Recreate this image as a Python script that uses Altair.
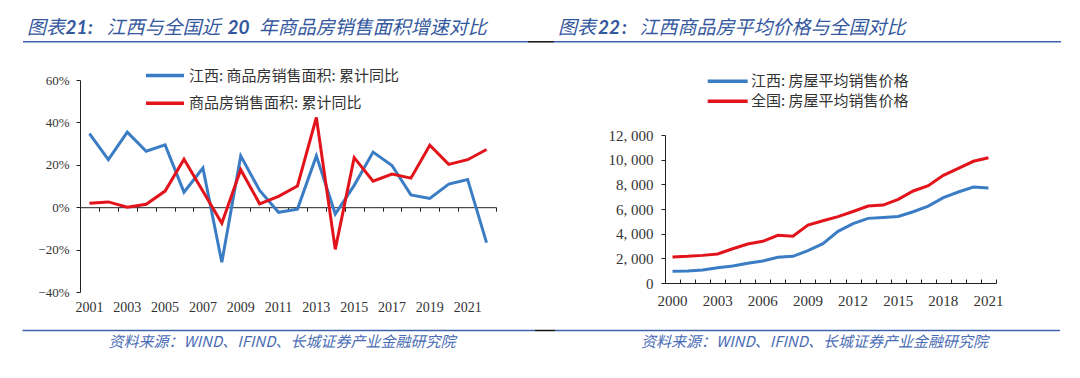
import altair as alt
import pandas as pd

# ---------------- data ----------------
years_l = [str(y) for y in range(2001, 2023)]
jx_area = [34.7, 22.4, 35.4, 26.4, 29.4, 7.1, 18.5, -26.0, 24.2, 7.9, -2.4, -0.9,
           24.2, -3.2, 10.3, 26.0, 19.7, 5.8, 4.1, 10.9, 13.1, -16.7]
cn_area = [1.9, 2.5, 0.0, 1.4, 7.6, 22.6, 7.5, -7.6, 17.7, 1.6, 5.1, 10.0,
           42.3, -19.9, 23.4, 12.3, 15.6, 13.7, 29.2, 20.2, 22.4, 27.2]
labels_l = [str(y) for y in range(2001, 2022, 2)]

years_r = [str(y) for y in range(2000, 2022)]
jx_price = [950, 970, 1050, 1240, 1380, 1600, 1780, 2080, 2160, 2620, 3190, 4190,
            4810, 5240, 5320, 5400, 5780, 6240, 6920, 7380, 7780, 7700]
cn_price = [2110, 2160, 2240, 2350, 2780, 3160, 3380, 3870, 3800, 4700, 5050, 5380,
            5800, 6240, 6320, 6780, 7460, 7890, 8730, 9300, 9870, 10160]
labels_r = [str(y) for y in range(2000, 2022, 3)]

left_names = ["江西: 商品房销售面积: 累计同比", "商品房销售面积: 累计同比"]
right_names = ["江西: 房屋平均销售价格", "全国: 房屋平均销售价格"]
title_l = ["图表", "21", ":", "江西与全国近", "20", "年商品房销售面积增速对比"]
title_r = ["图表", "22", ":", "江西商品房平均价格与全国对比"]
source = "资料来源：WIND、IFIND、长城证券产业金融研究院"

# ---------------- style ----------------
BLUE = "#3B7DC4"
RED = "#E3131B"
AX = "#222222"
LAB = "#333333"
TBLUE = "#34589E"
SBLUE = "#4A6CB5"
LINEBLUE = "#3D64AC"
CJK = "Noto Sans CJK SC"
SERIF = "Liberation Serif"

one = pd.DataFrame({"a": [0]})

dl_jx = pd.DataFrame({"year": years_l, "value": [v / 100 for v in jx_area]})
dl_cn = pd.DataFrame({"year": years_l, "value": [v / 100 for v in cn_area]})
dl_lab = pd.DataFrame({"year": labels_l})
dr_jx = pd.DataFrame({"year": years_r, "value": jx_price})
dr_cn = pd.DataFrame({"year": years_r, "value": cn_price})
dr_lab = pd.DataFrame({"year": labels_r})

WL, HL = 416, 212
WR, HR = 331, 203

# ---------------- left panel ----------------
xl_scale = alt.Scale(type="band", domain=years_l, paddingInner=0, paddingOuter=0)
yl_scale = alt.Scale(domain=[-0.4, 0.6], nice=False, zero=False)

xl_axis = alt.Axis(orient="bottom", offset=-84.8, labels=False, tickBand="extent",
                   tickSize=4, tickColor=AX, domainColor=AX, domainWidth=1,
                   grid=False, title=None)
yl_axis = alt.Axis(values=[-0.4, -0.2, 0, 0.2, 0.4, 0.6], format=".0%", tickSize=4,
                   labelPadding=7, grid=False, domainColor=AX, tickColor=AX,
                   labelFont=SERIF, labelFontSize=13, labelColor=LAB, title=None)

XL = alt.X("year:O", scale=xl_scale, axis=xl_axis, bandPosition=0.5)
YL = alt.Y("value:Q", scale=yl_scale, axis=yl_axis)

l_blue = alt.Chart(dl_jx).mark_line(color=BLUE, strokeWidth=3).encode(x=XL, y=YL)
l_red = alt.Chart(dl_cn).mark_line(color=RED, strokeWidth=3).encode(x=XL, y=YL)
l_xlab = alt.Chart(dl_lab).mark_text(font=SERIF, fontSize=14, color=LAB,
                                     baseline="middle").encode(
    x=XL, y=alt.value(228), text="year:N")


def rule(x1, x2, y, color, width):
    return alt.Chart(one).mark_rule(color=color, strokeWidth=width, strokeCap="butt").encode(
        x=alt.value(x1), x2=alt.value(x2), y=alt.value(y))


def text(s, x, y, size, color, font=CJK, style="normal", weight="normal"):
    return alt.Chart(one).mark_text(text=s, font=font, fontSize=size, color=color,
                                    align="left", baseline="middle",
                                    fontStyle=style, fontWeight=weight).encode(
        x=alt.value(x), y=alt.value(y))


# legend left
leg_l = [
    rule(66, 104, -4.5, BLUE, 3.5),
    text(left_names[0], 109, -4.5, 15, LAB),
    rule(66, 104, 23.2, RED, 3.5),
    text(left_names[1], 109, 23.2, 15, LAB),
]

# titles, underlines, sources (in left panel coordinates)
TY = -52.5
deco = [
    rule(-70.5, -66, -71, "white", 1),  # layout anchor
    text(title_l[0], -53, TY, 19, TBLUE, style="italic"),
    text(title_l[1], -14.5, TY, 19, TBLUE, font="Lato", style="italic", weight="bold"),
    text(title_l[2], 8, TY, 19, TBLUE, font="Lato", style="italic", weight="bold"),
    text(title_l[3], 26.5, TY, 19, TBLUE, style="italic"),
    text(title_l[4], 147.6, TY, 19, TBLUE, font="Lato", style="italic", weight="bold"),
    text(title_l[5], 178.8, TY, 19, TBLUE, style="italic"),
    text(title_r[0], 478, TY, 19, TBLUE, style="italic"),
    text(title_r[1], 518, TY, 19, TBLUE, font="Lato", style="italic", weight="bold"),
    text(title_r[2], 542, TY, 19, TBLUE, font="Lato", style="italic", weight="bold"),
    text(title_r[3], 559.6, TY, 19, TBLUE, style="italic"),
    rule(-57, 448, -38.2, LINEBLUE, 1.5),
    rule(448, 474, -38.2, "#111111", 1.5),
    rule(474, 981, -38.2, LINEBLUE, 1.5),
    rule(-57.5, 455, 250.5, LINEBLUE, 1.5),
    rule(455, 475, 250.5, "#111111", 1.5),
    rule(475, 980, 250.5, LINEBLUE, 1.5),
    text(source, 28.5, 262, 15, SBLUE, style="italic"),
    text(source, 561, 262, 15, SBLUE, style="italic"),
]

left = alt.layer(l_blue, l_red, l_xlab, *leg_l, *deco).properties(width=WL, height=HL)

# ---------------- right panel ----------------
xr_scale = alt.Scale(type="band", domain=years_r, paddingInner=0, paddingOuter=0)
yr_scale = alt.Scale(domain=[0, 12000], nice=False, range=[HR, 55])

xr_axis = alt.Axis(orient="top", offset=-HR, labels=False, tickBand="extent",
                   tickSize=4, tickColor=AX, domainColor=AX, grid=False, title=None)
yr_axis = alt.Axis(values=[0, 2000, 4000, 6000, 8000, 10000, 12000], tickSize=4,
                   labelPadding=8, grid=False, domainColor=AX, tickColor=AX,
                   labelFont=SERIF, labelFontSize=15, labelColor=LAB, title=None,
                   labelExpr="replace(format(datum.value, ','), ',', ', ')")

XR = alt.X("year:O", scale=xr_scale, axis=xr_axis, bandPosition=0.5)
YR = alt.Y("value:Q", scale=yr_scale, axis=yr_axis)

r_blue = alt.Chart(dr_jx).mark_line(color=BLUE, strokeWidth=3).encode(x=XR, y=YR)
r_red = alt.Chart(dr_cn).mark_line(color=RED, strokeWidth=3).encode(x=XR, y=YR)
r_xlab = alt.Chart(dr_lab).mark_text(font=SERIF, fontSize=15, color=LAB,
                                     baseline="middle").encode(
    x=XR, y=alt.value(221.2), text="year:N")
leg_r = [
    rule(42.7, 82.7, 1.2, BLUE, 3.5),
    text(right_names[0], 86, 1.2, 15, LAB),
    rule(42.7, 82.7, 21.2, RED, 3.5),
    text(right_names[1], 86, 21.2, 15, LAB),
]

right = alt.layer(r_blue, r_red, r_xlab, *leg_r).properties(width=WR, height=HR)

chart = alt.hconcat(left, right, spacing=169, bounds="flush").properties(
    padding={"left": 0, "top": 0, "right": 0, "bottom": 0},
    background="white",
).configure_view(stroke="transparent")

chart.save("out.html", embed_options={"renderer": "svg", "actions": False})
